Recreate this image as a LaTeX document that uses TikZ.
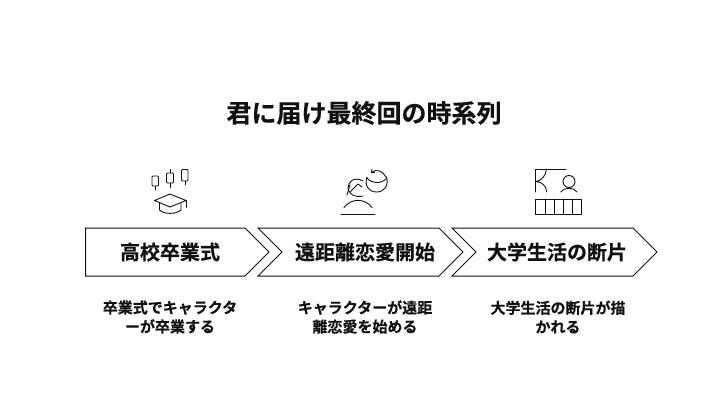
\documentclass[tikz,border=0pt]{standalone}
\usepackage{fontspec}
\usetikzlibrary{arrows.meta}
\setmainfont{Noto Sans CJK JP}[BoldFont={Noto Sans CJK JP Bold},BoldFeatures={FakeBold=0.3}]
\definecolor{inkblack}{HTML}{111111}
\tikzset{
    chevron/.style={draw=inkblack,line width=1pt,line join=miter},
    iconline/.style={draw=inkblack,line width=0.9pt,line cap=round,line join=round},
    steptext/.style={font=\bfseries\fontsize{20}{24}\selectfont,text=inkblack,inner sep=0pt},
    desctext/.style={font=\bfseries\fontsize{15}{19}\selectfont,text=inkblack,align=center,inner sep=0pt},
}
\begin{document}
\begin{tikzpicture}[x=1pt,y=-1pt]
    \useasboundingbox (0,0) rectangle (728,420);

    % title
    \node[font=\bfseries\fontsize{25}{30}\selectfont,text=inkblack,inner sep=0pt] (title) at (364,113) {君に届け最終回の時系列};

    % chevrons
    \draw[chevron] (85.5,228) -- (245,228) -- (269,252) -- (245,276) -- (85.5,276) -- cycle;
    \draw[chevron] (258,228) -- (439,228) -- (463,252) -- (439,276) -- (258,276) -- (282,252) -- cycle;
    \draw[chevron] (452,228) -- (633,228) -- (657,252) -- (633,276) -- (452,276) -- (476,252) -- cycle;

    \node[steptext] (stepa) at (170,252) {高校卒業式};
    \node[steptext] (stepb) at (365,252) {遠距離恋愛開始};
    \node[steptext] (stepc) at (557,252) {大学生活の断片};

    % descriptions
    \node[desctext] (desca) at (170,317) {卒業式でキャラクタ\\ーが卒業する};
    \node[desctext] (descb) at (365,317) {キャラクターが遠距\\離恋愛を始める};
    \node[desctext] (descc) at (558,317) {大学生活の断片が描\\かれる};

    % icon 1: candles and cap
    \draw[iconline,rounded corners=1pt] (152,176) rectangle (158.5,186);
    \draw[iconline] (155,186) -- (155,190);
    \draw[iconline,rounded corners=1pt] (166.5,173) rectangle (173.5,183);
    \draw[iconline] (170,169.5) -- (170,173) (170,183) -- (170,188);
    \draw[iconline,rounded corners=1pt] (181.5,169.5) rectangle (188,181);
    \draw[iconline] (185,181) -- (185,185);
    \draw[iconline] (154.5,200.5) -- (170,194) -- (186,200.5) -- (170,207) -- cycle;
    \draw[iconline] (159.5,203) -- (159.5,210) .. controls (164,214.5) and (176,214.5) .. (181,210) -- (181,203);
    \draw[iconline] (186,200.5) -- (186,207.5);

    % icon 2: face and turning globe
    \draw[iconline] (367,177) .. controls (364,186) and (369,192) .. (376.7,192) .. controls (384,192) and (389,186) .. (386.5,177);
    \draw[iconline] (367,178) .. controls (372,184) and (381,184) .. (386.5,178.5);
    \draw[iconline,-{Straight Barb[length=2.5pt,width=4.5pt]}] (386,177) .. controls (383,171) and (376,168.5) .. (371,173);
    \draw[iconline] (363,181) .. controls (354,176) and (348,182) .. (348,188) .. controls (348,193) and (354,198) .. (363,196);
    \draw[iconline] (347,195) -- (350,185);
    \draw[iconline] (350,192) -- (358,184) -- (362,187);
    \draw[iconline] (344,207.5) .. controls (351,198) and (365,198) .. (372,207.5);
    \draw[iconline] (341,214) -- (375,214);

    % icon 3: frame, person and table
    \draw[iconline] (566,169) -- (535.6,169) -- (535.6,192);
    \draw[iconline] (546.5,169) .. controls (546,176) and (541,181) .. (536,181.5) .. controls (542,182) and (546.5,186) .. (546.7,192);
    \draw[iconline] (569,181.5) circle (6);
    \draw[iconline] (560.7,192) .. controls (564,187) and (574,187) .. (577,192);
    \draw[iconline] (535.5,199) rectangle (581,214);
    \foreach \dx in {545,554,563,572} {
        \draw[iconline] (\dx,199) -- (\dx,214);
    }
\end{tikzpicture}
\end{document}
